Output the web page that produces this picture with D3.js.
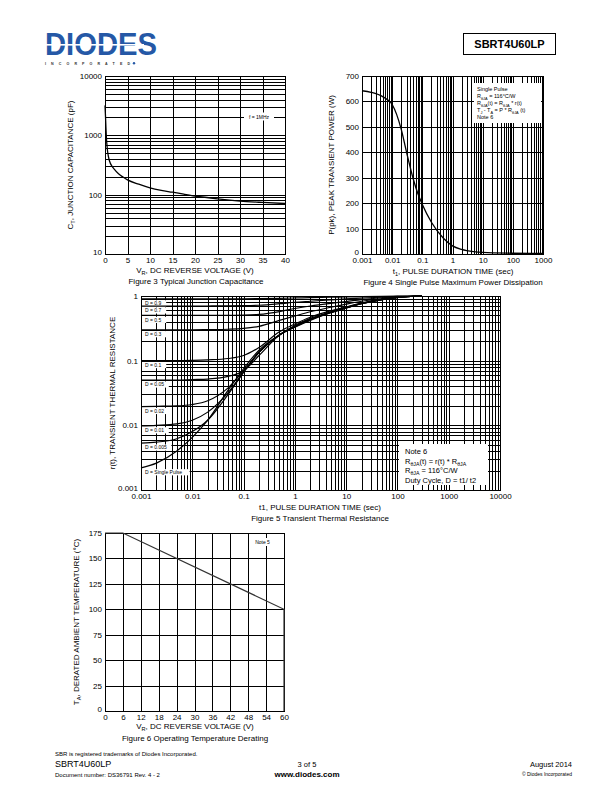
<!DOCTYPE html>
<html><head><meta charset="utf-8">
<script src="https://cdn.jsdelivr.net/npm/d3@7"></script>
<style>
body{margin:0;background:#fff}
svg{display:block;font-family:"Liberation Sans",Arial,sans-serif}
</style>
</head><body>
<svg id="page" width="612" height="792"></svg>
<script>
// ---------- DATA ----------
// Figure 3: typical junction capacitance
const capVoltage = [0,0.1,0.2,0.3,0.5,0.75,1,1.5,2,3,4,5,7.5,10,12.5,15,17.5,20,25,30,35,40];
const capValue   = [3200,2200,1400,950,600,440,370,305,272,225,198,178,150,130,118,110,102,95,85,78,74,71];
const capXTicks = [0,5,10,15,20,25,30,35,40];
const capYTicks = [10,100,1000,10000];

// Figure 4: single pulse maximum power dissipation
const pulseTime  = [0.001,0.002,0.005,0.01,0.02,0.03,0.05,0.07,0.1,0.2,0.5,1,2,5,10,100,1000];
const pulsePower = [642,636,618,588,490,400,295,240,195,125,62,32,18,9,6,3,2];
const pulseXTicks = [0.001,0.01,0.1,1,10,100,1000];
const pulseYTicks = [0,100,200,300,400,500,600,700];

// Figure 5: transient thermal resistance
const thermTime = [0.001,0.002,0.005,0.01,0.02,0.05,0.1,0.2,0.5,1,2,5,10,20,50,100,300];
const rD09    = [0.9,0.9,0.9,0.9,0.9,0.901,0.903,0.91,0.922,0.933,0.945,0.957,0.967,0.976,0.986,0.993,1.0];
const rD07    = [0.7,0.7,0.7,0.7,0.701,0.703,0.708,0.72,0.76,0.8,0.83,0.87,0.9,0.93,0.96,0.985,1.0];
const rD05    = [0.5,0.5,0.5,0.5,0.5,0.502,0.506,0.52,0.575,0.64,0.7,0.77,0.82,0.88,0.94,0.975,1.0];
const rD03    = [0.3,0.3,0.3,0.3,0.302,0.306,0.315,0.34,0.42,0.49,0.57,0.67,0.75,0.83,0.91,0.965,1.0];
const rD01    = [0.1,0.1,0.1,0.101,0.103,0.108,0.12,0.16,0.28,0.37,0.47,0.59,0.68,0.78,0.89,0.955,1.0];
const rD005   = [0.05,0.05,0.05,0.051,0.052,0.057,0.07,0.12,0.25,0.35,0.45,0.57,0.67,0.77,0.885,0.955,1.0];
const rD002   = [0.0195,0.0197,0.02,0.021,0.024,0.038,0.07,0.135,0.25,0.34,0.44,0.56,0.66,0.765,0.88,0.95,1.0];
const rD001   = [0.0098,0.01,0.0105,0.012,0.016,0.032,0.067,0.135,0.25,0.335,0.435,0.555,0.655,0.765,0.88,0.95,1.0];
const rD0005  = [0.0053,0.0055,0.0062,0.008,0.012,0.03,0.066,0.135,0.25,0.335,0.43,0.555,0.655,0.76,0.88,0.95,1.0];
const rSingle = [0.0022,0.0026,0.004,0.0065,0.012,0.035,0.075,0.145,0.25,0.33,0.42,0.55,0.65,0.76,0.88,0.95,1.0];
const dutyLabels = ["D = 0.9","D = 0.7","D = 0.5","D = 0.3","D = 0.1","D = 0.05","D = 0.02","D = 0.01","D = 0.005","D = Single Pulse"];
const thermXTicks = [0.001,0.01,0.1,1,10,100,1000,10000];
const thermYTicks = [0.001,0.01,0.1,1];

// Figure 6: operating temperature derating
const derVoltage = [0,6,60,60];
const derTemp    = [175,175,100,0];
const derXTicks = [0,6,12,18,24,30,36,42,48,54,60];
const derYTicks = [0,25,50,75,100,125,150,175];

// ---------- HELPERS ----------
const svg = d3.select('#page');

function addText(g, x, y, parts, o = {}) {
  const size = o.size || 8;
  const t = g.append('text').attr('x', x).attr('y', y)
    .attr('font-size', size).attr('text-anchor', o.anchor || 'start')
    .attr('fill', o.fill || '#000');
  if (o.rotate) t.attr('transform', `rotate(-90,${x},${y})`);
  if (o.weight) t.attr('font-weight', o.weight);
  const shift = size * 0.3;
  let low = false;
  parts.forEach(p => {
    if (typeof p === 'string') {
      const ts = t.append('tspan').text(p);
      if (low) { ts.attr('dy', -shift); low = false; }
    } else {
      const ts = t.append('tspan').attr('font-size', size * 0.7).text(p.sub);
      if (!low) { ts.attr('dy', shift); low = true; }
    }
  });
  return t;
}

function drawGrid(g, x, y, xGrid, yGrid) {
  const [x0, x1] = x.range(), [y0, y1] = y.range();
  g.append('g').attr('transform', `translate(0,${y0})`)
    .call(d3.axisBottom(x).tickValues(xGrid).tickSize(-(y0 - y1)).tickFormat(''))
    .call(s => s.select('.domain').remove())
    .call(s => s.selectAll('line').attr('stroke', '#000').attr('stroke-width', 1).attr('shape-rendering', 'crispEdges'));
  g.append('g').attr('transform', `translate(${x0},0)`)
    .call(d3.axisLeft(y).tickValues(yGrid).tickSize(-(x1 - x0)).tickFormat(''))
    .call(s => s.select('.domain').remove())
    .call(s => s.selectAll('line').attr('stroke', '#000').attr('stroke-width', 1).attr('shape-rendering', 'crispEdges'));
  g.append('rect').attr('x', x0).attr('y', y1).attr('width', x1 - x0).attr('height', y0 - y1)
    .attr('fill', 'none').attr('stroke', '#000').attr('stroke-width', 1).attr('shape-rendering', 'crispEdges');
}

function drawTickLabels(g, x, y, xTicks, yTicks, fmt) {
  const [x0] = x.range(), [y0] = y.range();
  g.append('g').attr('transform', `translate(0,${y0})`)
    .call(d3.axisBottom(x).tickValues(xTicks).tickSize(0).tickPadding(3.5).tickFormat(fmt))
    .call(s => s.select('.domain').remove())
    .call(s => s.selectAll('text').attr('font-size', 8).attr('font-family', '"Liberation Sans",Arial,sans-serif').attr('fill', '#000'));
  g.append('g').attr('transform', `translate(${x0},0)`)
    .call(d3.axisLeft(y).tickValues(yTicks).tickSize(0).tickPadding(3).tickFormat(fmt))
    .call(s => s.select('.domain').remove())
    .call(s => s.selectAll('text').attr('font-size', 8).attr('font-family', '"Liberation Sans",Arial,sans-serif').attr('fill', '#000')
      .attr('dy', (d, i) => i === 0 ? '0.05em' : '0.32em'));
}

function logGridValues(scale) {
  return scale.ticks(20);
}

const fmtNum = d => String(+d.toPrecision(6));

// ---------- HEADER ----------
const hdr = svg.append('g');
hdr.append('text').attr('x', 45).attr('y', 54.5).attr('font-size', 32).attr('font-weight', 'bold')
  .attr('fill', '#2558a6').attr('textLength', 112).attr('lengthAdjust', 'spacingAndGlyphs')
  .text('DIODES');
hdr.append('rect').attr('x', 44).attr('y', 44).attr('width', 100).attr('height', 1.6).attr('fill', '#fff');
hdr.append('text').attr('x', 45).attr('y', 64.6).attr('font-size', 3.6).attr('font-weight', 'bold')
  .attr('fill', '#333').attr('textLength', 85).attr('lengthAdjust', 'spacing').text('I N C O R P O R A T E D');
hdr.append('circle').attr('cx', 134).attr('cy', 63.3).attr('r', 1.2).attr('fill', '#2558a6');
hdr.append('rect').attr('x', 463.5).attr('y', 33.5).attr('width', 92).attr('height', 21)
  .attr('fill', 'none').attr('stroke', '#000').attr('stroke-width', 1);
hdr.append('text').attr('x', 509.5).attr('y', 48).attr('font-size', 11).attr('font-weight', 'bold')
  .attr('text-anchor', 'middle').text('SBRT4U60LP');

// ---------- FIGURE 3 ----------
{
  const g = svg.append('g');
  const x = d3.scaleLinear().domain([0, 40]).range([105, 285]);
  const y = d3.scaleLog().domain([10, 10000]).range([254, 76]);
  drawGrid(g, x, y, capXTicks, logGridValues(y));
  g.append('rect').attr('x', 244).attr('y', 112.5).attr('width', 30).attr('height', 8).attr('fill', '#fff');
  addText(g, 259, 118.5, ['f = 1MHz'], { size: 5, anchor: 'middle' });
  const pts = capVoltage.map((v, i) => [v, capValue[i]]);
  g.append('path').datum(pts)
    .attr('d', d3.line().x(d => x(d[0])).y(d => y(d[1])).curve(d3.curveMonotoneX))
    .attr('fill', 'none').attr('stroke', '#000').attr('stroke-width', 1.3);
  drawTickLabels(g, x, y, capXTicks, capYTicks, fmtNum);
  addText(g, 73, 165, ['C', { sub: 'T' }, ', JUNCTION CAPACITANCE (pF)'], { rotate: true, anchor: 'middle' });
  addText(g, 195, 272.5, ['V', { sub: 'R' }, ', DC REVERSE VOLTAGE (V)'], { anchor: 'middle' });
  addText(g, 196, 284, ['Figure 3 Typical Junction Capacitance'], { anchor: 'middle' });
}

// ---------- FIGURE 4 ----------
{
  const g = svg.append('g');
  const x = d3.scaleLog().domain([0.001, 1000]).range([362, 543]);
  const y = d3.scaleLinear().domain([0, 700]).range([254, 76]);
  drawGrid(g, x, y, logGridValues(x), pulseYTicks);
  const pts = pulseTime.map((t, i) => [t, pulsePower[i]]);
  g.append('path').datum(pts)
    .attr('d', d3.line().x(d => x(d[0])).y(d => y(d[1])).curve(d3.curveMonotoneX))
    .attr('fill', 'none').attr('stroke', '#000').attr('stroke-width', 1.3);
  g.append('rect').attr('x', 474).attr('y', 83).attr('width', 67).attr('height', 40).attr('fill', '#fff');
  const lx = 477, s = 5.5;
  addText(g, lx, 91, ['Single Pulse'], { size: s });
  addText(g, lx, 98, ['R', { sub: 'θJA' }, ' = 116°C/W'], { size: s });
  addText(g, lx, 105, ['R', { sub: 'θJA' }, '(t) = R', { sub: 'θJA' }, ' * r(t)'], { size: s });
  addText(g, lx, 112, ['T', { sub: 'J' }, ' - T', { sub: 'A' }, ' = P * R', { sub: 'θJA' }, ' (t)'], { size: s });
  addText(g, lx, 119, ['Note 6'], { size: s });
  drawTickLabels(g, x, y, pulseXTicks, pulseYTicks, fmtNum);
  addText(g, 334, 165, ['P(pk), PEAK TRANSIENT POWER (W)'], { rotate: true, anchor: 'middle' });
  addText(g, 453, 273.5, ['t', { sub: '1' }, ', PULSE DURATION TIME (sec)'], { anchor: 'middle' });
  addText(g, 453, 285, ['Figure 4 Single Pulse Maximum Power Dissipation'], { anchor: 'middle' });
}

// ---------- FIGURE 5 ----------
{
  const g = svg.append('g');
  const x = d3.scaleLog().domain([0.001, 10000]).range([141, 500]);
  const y = d3.scaleLog().domain([0.001, 1]).range([490, 296]);
  drawGrid(g, x, y, logGridValues(x), logGridValues(y));
  const series = [rD09, rD07, rD05, rD03, rD01, rD005, rD002, rD001, rD0005, rSingle];
  series.forEach((s, i) => {
    const yy = y(s[0]) + 4.5;
    const w = dutyLabels[i].length * 2.6 + 6;
    g.append('rect').attr('x', 142).attr('y', yy - 3.2).attr('width', w).attr('height', 6.2).attr('fill', '#fff');
    addText(g, 145, yy + 1.8, [dutyLabels[i]], { size: 5 });
  });
  const line = d3.line().x(d => x(d[0])).y(d => y(d[1])).curve(d3.curveMonotoneX);
  series.forEach(s => {
    g.append('path').datum(thermTime.map((t, i) => [t, s[i]]))
      .attr('d', line).attr('fill', 'none').attr('stroke', '#000').attr('stroke-width', 1.2);
  });
  g.append('rect').attr('x', 399).attr('y', 444).attr('width', 89).attr('height', 41).attr('fill', '#fff');
  const nx = 405;
  addText(g, nx, 454, ['Note 6'], { size: 7.5 });
  addText(g, nx, 463.5, ['R', { sub: 'θJA' }, '(t) = r(t) * R', { sub: 'θJA' }], { size: 7.5 });
  addText(g, nx, 473, ['R', { sub: 'θJA' }, ' = 116°C/W'], { size: 7.5 });
  addText(g, nx, 482.5, ['Duty Cycle, D = t1/ t2'], { size: 7.5 });
  drawTickLabels(g, x, y, thermXTicks, thermYTicks, fmtNum);
  addText(g, 115, 393, ['r(t), TRANSIENT THERMAL RESISTANCE'], { rotate: true, anchor: 'middle' });
  addText(g, 320, 510, ['t1, PULSE DURATION TIME (sec)'], { anchor: 'middle' });
  addText(g, 320, 521, ['Figure 5 Transient Thermal Resistance'], { anchor: 'middle' });
}

// ---------- FIGURE 6 ----------
{
  const g = svg.append('g');
  const x = d3.scaleLinear().domain([0, 60]).range([105, 284]);
  const y = d3.scaleLinear().domain([0, 175]).range([711, 533]);
  drawGrid(g, x, y, derXTicks, derYTicks);
  g.append('rect').attr('x', 252).attr('y', 538).attr('width', 21).attr('height', 8).attr('fill', '#fff');
  addText(g, 262.5, 544, ['Note 5'], { size: 5, anchor: 'middle' });
  const pts = derVoltage.map((v, i) => [v, derTemp[i]]);
  g.append('path').datum(pts)
    .attr('d', d3.line().x(d => x(d[0])).y(d => y(d[1])))
    .attr('fill', 'none').attr('stroke', '#333').attr('stroke-width', 1.2);
  drawTickLabels(g, x, y, derXTicks, derYTicks, fmtNum);
  addText(g, 79, 622, ['T', { sub: 'A' }, ', DERATED AMBIENT TEMPERATURE (°C)'], { rotate: true, anchor: 'middle' });
  addText(g, 195, 729, ['V', { sub: 'R' }, ', DC REVERSE VOLTAGE (V)'], { anchor: 'middle' });
  addText(g, 195, 741, ['Figure 6 Operating Temperature Derating'], { anchor: 'middle' });
}

// ---------- FOOTER ----------
{
  const g = svg.append('g');
  addText(g, 55, 756, ['SBR is registered trademarks of Diodes Incorporated.'], { size: 6 });
  addText(g, 55, 767, ['SBRT4U60LP'], { size: 9 });
  addText(g, 55, 777, ['Document number: DS36791  Rev. 4 - 2'], { size: 6 });
  addText(g, 307, 767, ['3 of 5'], { size: 7.5, anchor: 'middle' });
  addText(g, 307, 777, ['www.diodes.com'], { size: 8, anchor: 'middle', weight: 'bold' });
  addText(g, 572, 767, ['August 2014'], { size: 7.5, anchor: 'end' });
  addText(g, 572, 776, ['© Diodes Incorporated'], { size: 5, anchor: 'end' });
}
</script>
</body></html>
